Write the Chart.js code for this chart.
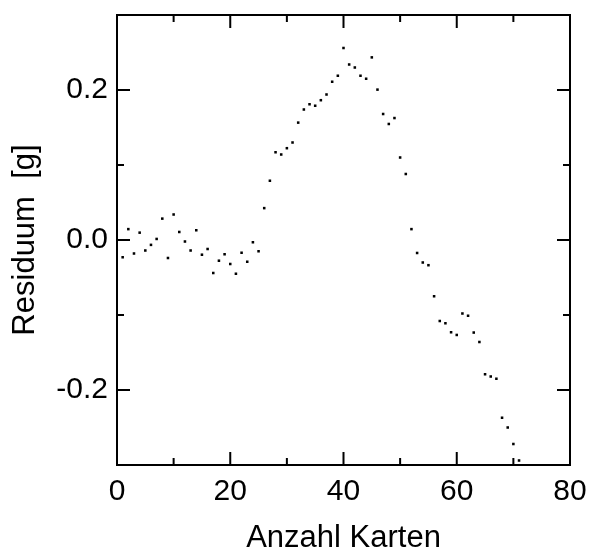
<!DOCTYPE html>
<html>
<head>
<meta charset="utf-8">
<script src="https://cdn.jsdelivr.net/npm/chart.js@4/dist/chart.umd.min.js"></script>
<style>
  html, body { margin: 0; padding: 0; background: #fff; }
  #wrap { width: 590px; height: 554px; position: relative; }
</style>
</head>
<body>
<div id="wrap"><canvas id="c" width="590" height="554"></canvas></div>
<script>
const cardCounts = [1,2,3,4,5,6,7,8,9,10,11,12,13,14,15,16,17,18,19,20,21,22,23,24,25,26,27,28,29,30,31,32,33,34,35,36,37,38,39,40,41,42,43,44,45,46,47,48,49,50,51,52,53,54,55,56,57,58,59,60,61,62,63,64,65,66,67,68,69,70,71];
const residuals = [-0.023,0.0145,-0.018,0.0098,-0.014,-0.0065,0.0014,0.0285,-0.024,0.034,0.0107,-0.002,-0.014,0.013,-0.0196,-0.012,-0.044,-0.0276,-0.019,-0.032,-0.045,-0.017,-0.029,-0.003,-0.015,0.0425,0.079,0.117,0.114,0.1224,0.130,0.1565,0.174,0.181,0.179,0.1864,0.194,0.211,0.219,0.256,0.234,0.230,0.219,0.215,0.2435,0.2005,0.168,0.1547,0.1626,0.110,0.088,0.0145,-0.0173,-0.030,-0.0336,-0.075,-0.108,-0.111,-0.123,-0.1266,-0.098,-0.101,-0.1234,-0.136,-0.179,-0.182,-0.185,-0.237,-0.250,-0.272,-0.294];
const xMajorTicks = [0,20,40,60,80];
const yMajorTicks = ["-0.2","0.0","0.2"];
const xTitle = "Anzahl Karten";
const yTitle = "Residuum  [g]";

const points = cardCounts.map((x, i) => ({x: x, y: residuals[i]}));
const FONT = "'Liberation Sans', Arial, Helvetica, sans-serif";

function fmtY(v) {
  const r = Math.round(v * 10) / 10;
  const s = (r === 0 ? 0 : r).toFixed(1);
  return yMajorTicks.includes(s) ? s : '';
}
function fmtX(v) {
  return xMajorTicks.includes(Math.round(v)) ? String(Math.round(v)) : '';
}
function zeroPad(s) { s.paddingTop = 0; s.paddingBottom = 0; s.paddingLeft = 0; s.paddingRight = 0; }

const frameTicks = {
  id: 'frameTicks',
  afterDatasetsDraw(chart) {
    const ctx = chart.ctx;
    const a = chart.chartArea;
    const xs = chart.scales.x, ys = chart.scales.y;
    ctx.save();
    ctx.strokeStyle = '#000';
    ctx.lineWidth = 2;
    ctx.lineCap = 'butt';
    ctx.beginPath();
    xs.ticks.forEach(t => {
      const px = xs.getPixelForValue(t.value);
      const len = fmtX(t.value) ? 13 : 7;
      ctx.moveTo(px, a.bottom); ctx.lineTo(px, a.bottom - len);
      ctx.moveTo(px, a.top); ctx.lineTo(px, a.top + len);
    });
    ys.ticks.forEach(t => {
      const py = ys.getPixelForValue(t.value);
      const len = fmtY(t.value) ? 13 : 7;
      ctx.moveTo(a.left, py); ctx.lineTo(a.left + len, py);
      ctx.moveTo(a.right, py); ctx.lineTo(a.right - len, py);
    });
    ctx.stroke();
    ctx.strokeRect(a.left, a.top, a.right - a.left, a.bottom - a.top);
    ctx.restore();
  }
};

new Chart(document.getElementById('c'), {
  type: 'scatter',
  data: {
    datasets: [{
      data: points,
      pointStyle: 'rect',
      pointRadius: 1.8,
      pointBorderWidth: 0,
      backgroundColor: '#000',
      borderColor: '#000'
    }]
  },
  options: {
    responsive: false,
    animation: false,
    devicePixelRatio: 1,
    layout: { padding: { top: 15, right: 20, left: 0, bottom: 0 } },
    plugins: { legend: { display: false }, tooltip: { enabled: false } },
    scales: {
      x: {
        type: 'linear', min: 0, max: 80,
        afterFit(s) { s.height = 89; zeroPad(s); },
        grid: { display: false, drawTicks: false },
        border: { display: false },
        ticks: { stepSize: 10, autoSkip: false, maxRotation: 0, padding: 9, color: '#000',
                 font: { family: FONT, size: 30 }, callback: v => fmtX(v) },
        title: { display: true, text: xTitle, color: '#000', padding: 0,
                 font: { family: FONT, size: 31, lineHeight: 1 } }
      },
      y: {
        type: 'linear', min: -0.3, max: 0.3,
        afterFit(s) { s.width = 117; zeroPad(s); },
        grid: { display: false, drawTicks: false },
        border: { display: false },
        ticks: { stepSize: 0.1, autoSkip: false, padding: 9, color: '#000',
                 font: { family: FONT, size: 30 }, callback: v => fmtY(v) },
        title: { display: true, text: yTitle, color: '#000', padding: { top: 10, bottom: 0 },
                 font: { family: FONT, size: 31, lineHeight: 1 } }
      }
    }
  },
  plugins: [frameTicks]
});
</script>
</body>
</html>
